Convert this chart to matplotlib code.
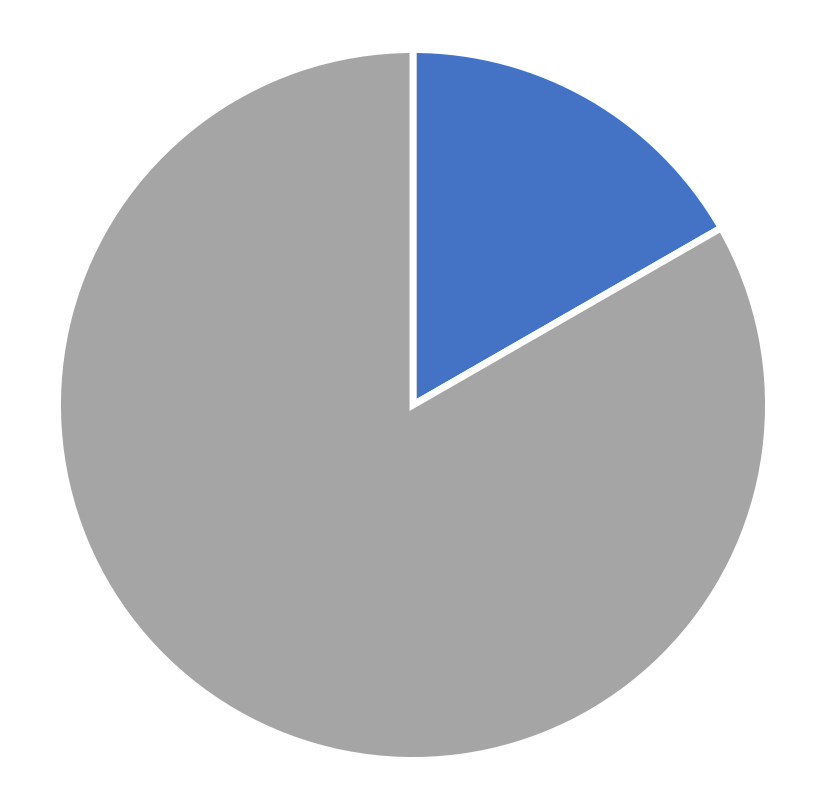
import matplotlib
matplotlib.use("Agg")
import matplotlib.pyplot as plt

# slice shares (blue wedge spans ~60 degrees)
labels = ["A", "B"]
values = [16.7, 83.3]
colors = ["#4472C4", "#A5A5A5"]

fig = plt.figure(figsize=(8.25, 8.12), dpi=100)
ax = fig.add_axes([0.0697, 0.0622, 0.8618, 0.8756])
ax.pie(values, colors=colors, startangle=90, counterclock=False,
       wedgeprops=dict(edgecolor="white", linewidth=5))
ax.set_aspect("equal")
ax.set_xlim(-1, 1)
ax.set_ylim(-1, 1)
ax.axis("off")

fig.savefig("out.png", dpi=100, facecolor="white")
